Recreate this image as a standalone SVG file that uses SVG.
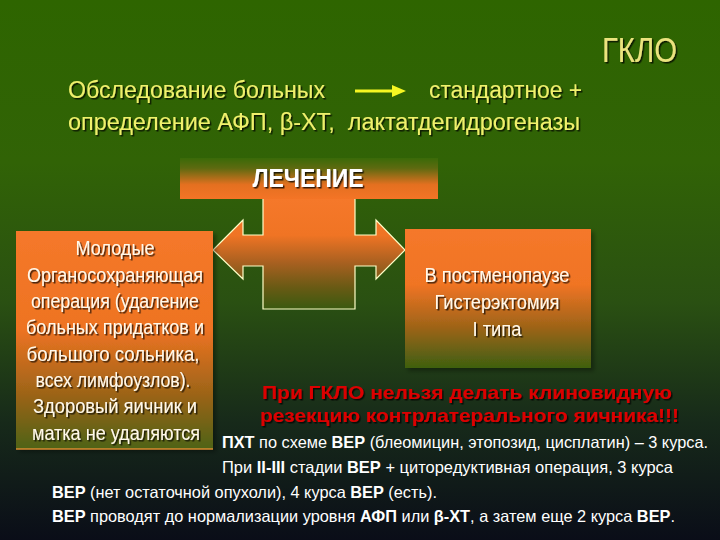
<svg xmlns="http://www.w3.org/2000/svg" width="720" height="540" viewBox="0 0 720 540">
  <defs>
    <linearGradient id="bg" x1="0" y1="0" x2="0" y2="1">
      <stop offset="0" stop-color="#2e6500"/>
      <stop offset="0.3" stop-color="#316306"/>
      <stop offset="0.56" stop-color="#2a5012"/>
      <stop offset="0.78" stop-color="#172a1a"/>
      <stop offset="1" stop-color="#0a0d18"/>
    </linearGradient>
    <linearGradient id="gLeft" x1="0" y1="0" x2="0" y2="1">
      <stop offset="0" stop-color="#f5782a"/>
      <stop offset="0.45" stop-color="#ee7322"/>
      <stop offset="0.75" stop-color="#9c6418"/>
      <stop offset="1" stop-color="#4e6412"/>
    </linearGradient>
    <linearGradient id="gRight" x1="0" y1="0" x2="0" y2="1">
      <stop offset="0" stop-color="#f5782a"/>
      <stop offset="0.4" stop-color="#f07424"/>
      <stop offset="0.7" stop-color="#a06418"/>
      <stop offset="1" stop-color="#3e6010"/>
    </linearGradient>
    <linearGradient id="gHead" x1="0" y1="0" x2="0" y2="1">
      <stop offset="0" stop-color="#3a6a08"/>
      <stop offset="0.25" stop-color="#5e6a10"/>
      <stop offset="0.65" stop-color="#e47020"/>
      <stop offset="1" stop-color="#f47426"/>
    </linearGradient>
    <linearGradient id="gCross" gradientUnits="userSpaceOnUse" x1="0" y1="199" x2="0" y2="309">
      <stop offset="0" stop-color="#f5782a"/>
      <stop offset="0.33" stop-color="#f07424"/>
      <stop offset="0.58" stop-color="#a86020"/>
      <stop offset="0.8" stop-color="#6a5a14"/>
      <stop offset="1" stop-color="#3a5a10"/>
    </linearGradient>
    <filter id="sh" x="-10%" y="-30%" width="120%" height="160%">
      <feDropShadow dx="1.5" dy="1.5" stdDeviation="0.4" flood-color="#000" flood-opacity="0.75"/>
    </filter>
    <filter id="boxsh" x="-10%" y="-10%" width="130%" height="130%">
      <feDropShadow dx="3" dy="3" stdDeviation="2" flood-color="#000" flood-opacity="0.35"/>
    </filter>
  </defs>
  <style>
    text { font-family: "Liberation Sans", Arial, sans-serif; }
    .yel { fill: #f0f06c; font-size: 23px; filter: url(#sh); white-space: pre; }
    .box { fill: #fff8ea; font-size: 19.5px; text-anchor: middle; filter: url(#sh); }
    .red { fill: #dc0000; font-size: 18.5px; font-weight: bold; filter: url(#sh); }
    .wht { fill: #ffffff; font-size: 16.5px; }
    .b { font-weight: bold; }
  </style>

  <rect x="0" y="0" width="720" height="540" fill="url(#bg)"/>

  <g id="title">
    <text x="602" y="62" style="fill:#ebe37e;font-size:35px;filter:url(#sh)" textLength="75" lengthAdjust="spacingAndGlyphs">ГКЛО</text>
  </g>

  <g id="header">
    <text class="yel" x="68" y="98" textLength="257" lengthAdjust="spacingAndGlyphs">Обследование больных</text>
    <text class="yel" x="429" y="98" textLength="153" lengthAdjust="spacingAndGlyphs">стандартное +</text>
    <text class="yel" x="68" y="130" textLength="512" lengthAdjust="spacingAndGlyphs">определение АФП, β-ХТ,  лактатдегидрогеназы</text>
  </g>

  <g id="connectors">
    <line x1="355" y1="91" x2="396" y2="91" stroke="#f6f622" stroke-width="3"/>
    <polygon points="392,85 406,91 392,97" fill="#f6f622"/>
    <path d="M263,199 L263,235 L243,235 L243,220 L213,250 L243,279 L243,266 L263,266 L263,309 L355,309 L355,266 L376,266 L376,279 L405,250 L376,220 L376,235 L355,235 L355,199 Z" fill="url(#gCross)" stroke="none"/>
    <path d="M263,199 L263,235 L243,235 L243,220 L213,250 L243,279 L243,266 L263,266 L263,309 L355,309 L355,266 L376,266 L376,279 L405,250 L376,220 L376,235 L355,235 L355,199" fill="none" stroke="#ffffc8" stroke-width="1.2"/>
  </g>

  <g id="treatment">
    <rect x="180" y="158" width="258" height="41" fill="url(#gHead)"/>
    <text x="308" y="187" style="fill:#ffffff;font-size:26px;font-weight:bold;text-anchor:middle;filter:url(#sh)" textLength="111" lengthAdjust="spacingAndGlyphs">ЛЕЧЕНИЕ</text>
  </g>

  <g id="young">
    <rect x="16" y="231" width="197" height="218" fill="url(#gLeft)" filter="url(#boxsh)"/>
    <line x1="16" y1="449" x2="213" y2="449" stroke="#d88a30" stroke-width="1.5"/>
    <text class="box" x="115" y="255" textLength="79" lengthAdjust="spacingAndGlyphs">Молодые</text>
    <text class="box" x="115" y="282" textLength="176" lengthAdjust="spacingAndGlyphs">Органосохраняющая</text>
    <text class="box" x="115" y="308" textLength="168" lengthAdjust="spacingAndGlyphs">операция (удаление</text>
    <text class="box" x="115" y="334" textLength="178" lengthAdjust="spacingAndGlyphs">больных придатков и</text>
    <text class="box" x="113" y="361" textLength="173" lengthAdjust="spacingAndGlyphs">большого сольника,</text>
    <text class="box" x="113" y="387" textLength="155" lengthAdjust="spacingAndGlyphs">всех лимфоузлов).</text>
    <text class="box" x="115" y="413" textLength="164" lengthAdjust="spacingAndGlyphs">Здоровый яичник и</text>
    <text class="box" x="116" y="440" textLength="168" lengthAdjust="spacingAndGlyphs">матка не удаляются</text>
  </g>

  <g id="postmenopause">
    <rect x="405" y="229" width="186" height="139" fill="url(#gRight)" filter="url(#boxsh)"/>
    <text class="box" x="497" y="282" textLength="145" lengthAdjust="spacingAndGlyphs">В постменопаузе</text>
    <text class="box" x="497" y="309" textLength="125" lengthAdjust="spacingAndGlyphs">Гистерэктомия</text>
    <text class="box" x="497" y="336" textLength="49" lengthAdjust="spacingAndGlyphs">I типа</text>
  </g>

  <g id="warning">
    <text class="red" x="262" y="399" textLength="410" lengthAdjust="spacingAndGlyphs">При ГКЛО нельзя делать клиновидную</text>
    <text class="red" x="260" y="422" textLength="419" lengthAdjust="spacingAndGlyphs">резекцию контрлатерального яичника!!!</text>
  </g>

  <g id="chemo">
    <text class="wht" x="222" y="448" textLength="486" lengthAdjust="spacingAndGlyphs"><tspan class="b">ПХТ</tspan> по схеме <tspan class="b">ВЕР</tspan> (блеомицин, этопозид, цисплатин) – 3 курса.</text>
    <text class="wht" x="222" y="473" textLength="451" lengthAdjust="spacingAndGlyphs">При <tspan class="b">II-III</tspan> стадии <tspan class="b">ВЕР</tspan> + циторедуктивная операция, 3 курса</text>
    <text class="wht" x="52" y="498" textLength="385" lengthAdjust="spacingAndGlyphs"><tspan class="b">ВЕР</tspan> (нет остаточной опухоли), 4 курса <tspan class="b">ВЕР</tspan> (есть).</text>
    <text class="wht" x="52" y="522" textLength="623" lengthAdjust="spacingAndGlyphs"><tspan class="b">ВЕР</tspan> проводят до нормализации уровня <tspan class="b">АФП</tspan> или <tspan class="b">β-ХТ</tspan>, а затем еще 2 курса <tspan class="b">ВЕР</tspan>.</text>
  </g>
</svg>
